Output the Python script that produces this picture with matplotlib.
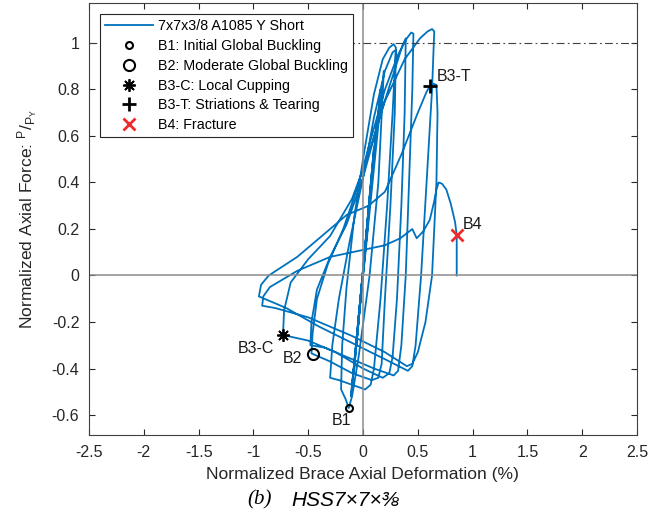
import matplotlib
matplotlib.use("Agg")
import matplotlib.pyplot as plt
from matplotlib.lines import Line2D

plt.rcParams['font.family'] = ['Liberation Sans', 'DejaVu Sans']
plt.rcParams['axes.unicode_minus'] = False
plt.rcParams['mathtext.fontset'] = 'custom'
plt.rcParams['mathtext.rm'] = 'Liberation Sans'
plt.rcParams['mathtext.it'] = 'Liberation Sans:italic'

# ---------------- data ----------------
deformation = [
    0.00, 0.04, -0.04, 0.07, -0.06, 0.10, -0.08, 0.13, -0.10, 0.16, -0.11, 0.19,
    0.14, 0.06, -0.04, -0.10, -0.13, -0.16, -0.20,
    -0.19, -0.15, -0.08, 0.00, 0.10, 0.18, 0.24, 0.28, 0.30,
    0.27, 0.22, 0.16, 0.10, 0.07, 0.02, -0.10, -0.22, -0.30,
    -0.28, -0.22, -0.12, 0.00, 0.10, 0.20, 0.27, 0.30,
    0.29, 0.25, 0.20, 0.17, 0.14, 0.08, -0.10, -0.30, -0.47,
    -0.46, -0.42, -0.32, -0.18, -0.05, 0.08, 0.20, 0.32, 0.40, 0.44, 0.46,
    0.45, 0.42, 0.39, 0.35, 0.32, 0.28, 0.10, -0.15, -0.35, -0.48,
    -0.47, -0.42, -0.30, -0.15, 0.00, 0.15, 0.30, 0.36, 0.39,
    0.38, 0.35, 0.31, 0.27, 0.24, 0.18, 0.00, -0.25, -0.50, -0.73,
    -0.72, -0.66, -0.50, -0.30, -0.10, 0.05, 0.20, 0.38, 0.52, 0.59, 0.63, 0.65,
    0.63, 0.58, 0.53, 0.48, 0.45, 0.41, 0.20, -0.10, -0.40, -0.70, -0.95,
    -0.93, -0.86, -0.60, -0.35, -0.15, 0.05, 0.20, 0.35, 0.50, 0.58, 0.61, 0.64, 0.67,
    0.68, 0.67, 0.63, 0.57, 0.50, 0.45, 0.40, 0.20, -0.10, -0.50, -0.80, -0.92,
    -0.91, -0.85, -0.60, -0.30, 0.00, 0.20, 0.34, 0.45, 0.49, 0.55, 0.61, 0.65,
    0.67, 0.69, 0.72, 0.76, 0.80, 0.84, 0.855, 0.855,
]
force = [
    0.00, 0.20, -0.18, 0.38, -0.30, 0.55, -0.40, 0.68, -0.48, 0.80, -0.52, 0.88,
    0.40, 0.00, -0.35, -0.52, -0.57, -0.53, -0.49,
    -0.30, -0.05, 0.25, 0.50, 0.78, 0.93, 0.98, 0.995, 0.98,
    0.70, 0.30, -0.10, -0.40, -0.47, -0.49, -0.47, -0.45, -0.44,
    -0.30, -0.10, 0.15, 0.42, 0.68, 0.88, 0.96, 0.97,
    0.70, 0.30, -0.10, -0.38, -0.44, -0.45, -0.42, -0.37, -0.335,
    -0.25, -0.10, 0.05, 0.20, 0.38, 0.60, 0.80, 0.95, 1.02, 1.045, 1.04,
    0.80, 0.40, 0.00, -0.30, -0.41, -0.43, -0.40, -0.35, -0.31, -0.30,
    -0.20, -0.06, 0.08, 0.22, 0.42, 0.68, 0.90, 0.99, 1.02,
    0.70, 0.30, -0.10, -0.35, -0.42, -0.44, -0.40, -0.33, -0.28, -0.256,
    -0.15, -0.03, 0.07, 0.17, 0.33, 0.52, 0.75, 0.93, 1.02, 1.05, 1.06, 1.05,
    0.80, 0.40, 0.00, -0.30, -0.39, -0.41, -0.36, -0.29, -0.22, -0.14, -0.09,
    -0.04, 0.00, 0.08, 0.18, 0.26, 0.30, 0.36, 0.52, 0.70, 0.79, 0.815, 0.825, 0.82,
    0.70, 0.40, 0.00, -0.20, -0.33, -0.38, -0.39, -0.33, -0.26, -0.18, -0.14, -0.13,
    -0.09, -0.05, 0.02, 0.08, 0.11, 0.13, 0.16, 0.20, 0.16, 0.19, 0.24, 0.32,
    0.37, 0.40, 0.395, 0.37, 0.31, 0.23, 0.174, 0.00,
]

event_names = ["B1: Initial Global Buckling", "B2: Moderate Global Buckling",
               "B3-C: Local Cupping", "B3-T: Striations & Tearing", "B4: Fracture"]
event_tags = ["B1", "B2", "B3-C", "B3-T", "B4"]
event_x = [-0.13, -0.456, -0.73, 0.61, 0.855]
event_y = [-0.57, -0.338, -0.256, 0.815, 0.174]

series_label = "7x7x3/8 A1085 Y Short"
x_ticks = [-2.5, -2, -1.5, -1, -0.5, 0, 0.5, 1, 1.5, 2, 2.5]
x_tick_labels = ["-2.5", "-2", "-1.5", "-1", "-0.5", "0", "0.5", "1", "1.5", "2", "2.5"]
y_ticks = [-0.6, -0.4, -0.2, 0, 0.2, 0.4, 0.6, 0.8, 1]
y_tick_labels = ["-0.6", "-0.4", "-0.2", "0", "0.2", "0.4", "0.6", "0.8", "1"]

# ---------------- figure ----------------
W, H = 662, 521
fig = plt.figure(figsize=(W / 100, H / 100), dpi=100)
ax = fig.add_axes([89 / W, 1 - 435 / H, (637 - 89) / W, (435 - 3) / H])

blue = '#0072BD'
ax.plot(deformation, force, color=blue, lw=1.3, zorder=2, solid_joinstyle='round')

ax.axhline(0, color='#8c8c8c', lw=1.1, zorder=2.5)
ax.axvline(0, color='#8c8c8c', lw=1.1, zorder=2.5)
ax.axhline(1, color='#404040', lw=0.8, ls=(0, (7, 3, 1.5, 3)), zorder=2.5)

styles = [
    dict(marker='o', ms=5, mfc='none', mec='black', mew=1.5),
    dict(marker='o', ms=8, mfc='none', mec='black', mew=1.5),
    dict(marker=(8, 2, 0), ms=9, mec='black', mew=1.3),
    dict(marker='+', ms=10, mec='black', mew=2.0),
    dict(marker='x', ms=8, mec='#ee2a2a', mew=2.0),
]
handles = [Line2D([], [], color=blue, lw=1.3)]
for i in range(5):
    ax.plot([event_x[i]], [event_y[i]], ls='none', zorder=4, **styles[i])
    handles.append(Line2D([], [], ls='none', **styles[i]))

tag_off = [(-0.155, -0.052), (-0.28, -0.02), (-0.41, -0.056), (0.065, 0.041), (0.057, 0.047)]
for i in range(5):
    ax.text(event_x[i] + tag_off[i][0], event_y[i] + tag_off[i][1], event_tags[i],
            fontsize=11.5, color='#1a1a1a', ha='left', va='center', zorder=5)

ax.set_xlim(-2.5, 2.5)
ax.set_ylim(-0.686, 1.172)
ax.set_xticks(x_ticks)
ax.set_xticklabels(x_tick_labels)
ax.set_yticks(y_ticks)
ax.set_yticklabels(y_tick_labels)
ax.tick_params(direction='in', length=4, width=0.8, top=True, right=True,
               labelsize=11.5, colors='#262626', pad=7)
for s in ax.spines.values():
    s.set_color('#404040')
    s.set_linewidth(0.8)

ax.set_xlabel("Normalized Brace Axial Deformation (%)", fontsize=12.6, color='#262626')
ax.xaxis.set_label_coords(0.5, -0.075)
ax.xaxis.label.set_va('top')
ax.set_ylabel(r"Normalized Axial Force: $^{\mathrm{P}}/_{\mathrm{P}_{\mathrm{Y}}}$",
              fontsize=12.6, color='#262626')
ax.yaxis.set_label_coords(-0.09, 0.5)

leg = ax.legend(handles, [series_label] + event_names, loc='upper left',
                fontsize=10.3, frameon=True, fancybox=False, edgecolor='#262626',
                framealpha=1, handlelength=3.3, handletextpad=0.4, borderpad=0.35,
                labelspacing=0.4, borderaxespad=0.8)
leg.get_frame().set_linewidth(0.8)
leg.set_zorder(6)

# caption
fig.text(272 / W, 1 - 500 / H, "(b)", fontsize=15, style='italic',
         family=['Liberation Serif', 'DejaVu Serif'], ha='right', va='center')
fig.text(291 / W, 1 - 500 / H, "HSS7×7×⅜", fontsize=15, style='italic',
         family=['Liberation Sans', 'DejaVu Sans'], ha='left', va='center')

fig.savefig("out.png", dpi=100)
